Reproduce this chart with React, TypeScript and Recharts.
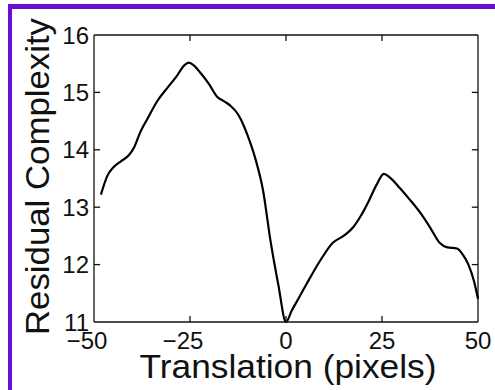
import React from "react";
import { LineChart, Line, XAxis, YAxis, Label, ReferenceLine } from "recharts";

const shiftX = [
  -48.2, -46.5, -45, -43, -41, -39.5, -38, -36, -33.5, -31, -28.5, -26.5, -25.3, -24, -22.4,
  -20, -18, -16, -14.5, -12.5, -11, -10, -8, -6, -4, -2, 0,
  1.5, 3, 5.5, 9, 12.2, 15, 17.5, 19.5, 21.5, 23.5, 25.5, 27, 29.7, 32, 35, 37.5, 40,
  42, 44.5, 46, 47.5, 49, 50,
];
const residual = [
  13.22, 13.55, 13.69, 13.8, 13.9, 14.05, 14.3, 14.55, 14.85, 15.07, 15.28, 15.47, 15.52, 15.47, 15.35,
  15.14, 14.93, 14.84, 14.77, 14.62, 14.42, 14.25, 13.85, 13.3, 12.4, 11.65, 11.0,
  11.2, 11.38, 11.68, 12.08, 12.38, 12.5, 12.65, 12.85, 13.1, 13.38, 13.58, 13.52, 13.33, 13.15, 12.9, 12.65, 12.38,
  12.3, 12.28, 12.18, 12.0, 11.7, 11.4,
];
const xTicks = [-50, -25, 0, 25, 50];
const yTicks = [11, 12, 13, 14, 15, 16];
const X_MIN = -50, X_MAX = 50, Y_MIN = 11, Y_MAX = 16;

const data = shiftX.map((x, i) => ({ x, y: residual[i] }));

const FONT = "Arial, 'Liberation Sans', sans-serif";
const INK = "#111";
// inward tick length (~6px) in data units
const TX = 1.6;
const TY = 0.105;

// MATLAB style: digits centred on the tick, minus sign hanging to the left
function XTick(props: any) {
  const { x, y, payload } = props;
  const v = payload.value as number;
  const digits = String(Math.abs(v));
  const half = digits.length * 6.7;
  return (
    <g>
      <text x={x} y={y + 17} textAnchor="middle" fontSize={24} fontFamily={FONT} fill={INK}>
        {digits}
      </text>
      {v < 0 && (
        <text x={x - half} y={y + 17} textAnchor="end" fontSize={24} fontFamily={FONT} fill={INK}>
          {"\u2212"}
        </text>
      )}
    </g>
  );
}

function XLabel(props: any) {
  const vb = props.viewBox;
  return (
    <text
      x={vb.x + vb.width / 2 + 2}
      y={378}
      textAnchor="middle"
      fontSize={33}
      textLength={297}
      lengthAdjust="spacingAndGlyphs"
      fontFamily={FONT}
      fill={INK}
    >
      Translation (pixels)
    </text>
  );
}

function YLabel(props: any) {
  const vb = props.viewBox;
  const cy = vb.y + vb.height / 2 - 2;
  return (
    <text
      x={49}
      y={cy}
      transform={`rotate(-90 49 ${cy})`}
      textAnchor="middle"
      fontSize={33}
      textLength={317}
      lengthAdjust="spacingAndGlyphs"
      fontFamily={FONT}
      fill={INK}
    >
      Residual Complexity
    </text>
  );
}

const edge = { stroke: INK, strokeWidth: 1.3 };

export default function App() {
  const innerX = xTicks.filter((t) => t > X_MIN && t < X_MAX);
  const innerY = yTicks.filter((t) => t > Y_MIN && t < Y_MAX);
  return (
    <div style={{ position: "absolute", left: 0, top: 0, width: 495, height: 390, overflow: "hidden", background: "#fff" }}>
      <div
        style={{
          position: "absolute",
          left: 8,
          top: 4,
          width: 520,
          height: 390,
          boxSizing: "border-box",
          borderTop: "5px solid #6a0dd1",
          borderLeft: "4px solid #6a0dd1",
          borderBottom: "4px solid #6a0dd1",
        }}
      />
      <div style={{ position: "absolute", left: 0, top: 0 }}>
        <LineChart width={495} height={390} data={data} margin={{ top: 35, right: 17, left: 0, bottom: 0 }}>
          <XAxis
            dataKey="x"
            type="number"
            domain={[X_MIN, X_MAX]}
            ticks={xTicks}
            height={68}
            tickLine={false}
            tickSize={0}
            tickMargin={10}
            tick={<XTick />}
            axisLine={edge}
          >
            <Label content={<XLabel />} />
          </XAxis>
          <YAxis
            type="number"
            domain={[Y_MIN, Y_MAX]}
            ticks={yTicks}
            width={94}
            tickLine={false}
            tickSize={0}
            tickMargin={5}
            tick={{ fontSize: 24, fontFamily: FONT, fill: INK }}
            axisLine={edge}
          >
            <Label content={<YLabel />} />
          </YAxis>
          {/* box top and right edges */}
          <ReferenceLine y={Y_MAX} {...edge} />
          <ReferenceLine x={X_MAX} {...edge} />
          {/* inward tick marks on all four sides */}
          {innerX.map((t) => (
            <ReferenceLine key={`b${t}`} segment={[{ x: t, y: Y_MIN }, { x: t, y: Y_MIN + TY }]} {...edge} />
          ))}
          {innerX.map((t) => (
            <ReferenceLine key={`t${t}`} segment={[{ x: t, y: Y_MAX }, { x: t, y: Y_MAX - TY }]} {...edge} />
          ))}
          {innerY.map((t) => (
            <ReferenceLine key={`l${t}`} segment={[{ x: X_MIN, y: t }, { x: X_MIN + TX, y: t }]} {...edge} />
          ))}
          {innerY.map((t) => (
            <ReferenceLine key={`r${t}`} segment={[{ x: X_MAX, y: t }, { x: X_MAX - TX, y: t }]} {...edge} />
          ))}
          <Line
            dataKey="y"
            type="monotone"
            stroke="#000"
            strokeWidth={2.2}
            dot={false}
            isAnimationActive={false}
          />
        </LineChart>
      </div>
    </div>
  );
}
